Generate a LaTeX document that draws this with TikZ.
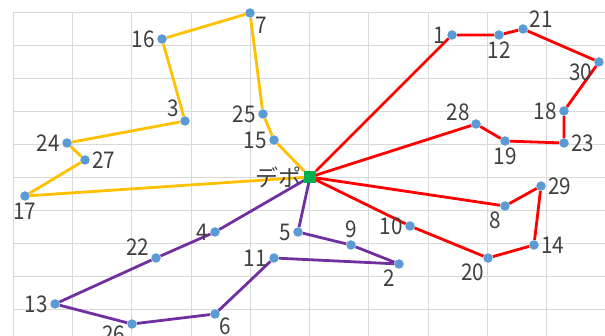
\documentclass[tikz,border=0pt]{standalone}
\usepackage{fontspec}
\setmainfont{Noto Sans CJK JP}
\newfontfamily\numfont[FakeStretch=0.9]{Noto Sans CJK JP}
\newfontfamily\jpfont{Noto Sans CJK JP}
\usepackage{xcolor}
\usepackage{tikz}
\usetikzlibrary{positioning}

\definecolor{gridgray}{HTML}{D9D9D9}
\definecolor{txtgray}{HTML}{404040}
\definecolor{dotblue}{HTML}{5B9BD5}
\definecolor{depotgreen}{HTML}{00B050}
\definecolor{routeyellow}{HTML}{FFC000}
\definecolor{routered}{HTML}{FF0000}
\definecolor{routepurple}{HTML}{7030A0}

\pgfdeclarelayer{background}
\pgfsetlayers{background,main}

\tikzset{
  client/.style={circle,fill=dotblue,inner sep=0pt,minimum size=9.5pt},
  depotbox/.style={rectangle,fill=depotgreen,inner sep=0pt,minimum size=11.5pt},
  lbl/.style={text=txtgray,inner sep=0pt,font=\numfont\fontsize{23}{25}\selectfont},
  gridline/.style={gridgray,line width=0.8pt},
  route/.style={line width=2.8pt,line join=round}
}

\begin{document}
\begin{tikzpicture}[x=1pt,y=-1pt,label distance=2pt]
  \useasboundingbox (0,0) rectangle (605,336);
  % 目盛り線
  \begin{pgfonlayer}{background}
    \foreach \x in {0,...,9} {
      \draw[gridline] ({13+59.3*\x},12) -- ({13+59.3*\x},336);
    }
    \foreach \y in {0,...,9} {
      \draw[gridline] (13,{12+33*\y}) -- (605,{12+33*\y});
    }
  \end{pgfonlayer}
  % デポ
  \node[depotbox,label={[lbl,font=\jpfont\fontsize{23}{25}\selectfont]left:デポ}] (depot) at (310,177) {};
  % 顧客
  \node[client,label={[lbl]left:1}] (p1) at (452,35) {};
  \node[client,label={[lbl]232:2}] (p2) at (399,264) {};
  \node[client,label={[lbl]142:3}] (p3) at (185,121) {};
  \node[client,label={[lbl]left:4}] (p4) at (215,232) {};
  \node[client,label={[lbl]left:5}] (p5) at (298,232) {};
  \node[client,label={[lbl,label distance=0pt]321:6}] (p6) at (215,314) {};
  \node[client,label={[lbl]322:7}] (p7) at (250,13) {};
  \node[client,label={[lbl]233:8}] (p8) at (505,206) {};
  \node[client,label={[lbl]above:9}] (p9) at (351,245) {};
  \node[client,label={[lbl]left:10}] (p10) at (410,226) {};
  \node[client,label={[lbl]left:11}] (p11) at (274,258) {};
  \node[client,label={[lbl]below:12}] (p12) at (499,35) {};
  \node[client,label={[lbl]left:13}] (p13) at (55,304) {};
  \node[client,label={[lbl]right:14}] (p14) at (534,245) {};
  \node[client,label={[lbl]left:15}] (p15) at (274,140) {};
  \node[client,label={[lbl]left:16}] (p16) at (162,39) {};
  \node[client,label={[lbl]below:17}] (p17) at (25,196) {};
  \node[client,label={[lbl]left:18}] (p18) at (564,111) {};
  \node[client,label={[lbl]below:19}] (p19) at (505,141) {};
  \node[client,label={[lbl]241:20}] (p20) at (488,258) {};
  \node[client,label={[lbl]13:21}] (p21) at (523,29) {};
  \node[client,label={[lbl]160:22}] (p22) at (156,258) {};
  \node[client,label={[lbl]right:23}] (p23) at (564,143) {};
  \node[client,label={[lbl]left:24}] (p24) at (67,143) {};
  \node[client,label={[lbl]left:25}] (p25) at (263,114) {};
  \node[client,label={[lbl]197:26}] (p26) at (132,324) {};
  \node[client,label={[lbl]right:27}] (p27) at (85,160) {};
  \node[client,label={[lbl]155:28}] (p28) at (476,124) {};
  \node[client,label={[lbl]right:29}] (p29) at (541,186) {};
  \node[client,label={[lbl]193:30}] (p30) at (599,62) {};
  % ルート
  \begin{pgfonlayer}{background}
    \draw[route,routeyellow] (depot) -- (p15) -- (p25) -- (p7) -- (p16) -- (p3)
      -- (p24) -- (p27) -- (p17) -- (depot);
    \draw[route,routered] (depot) -- (p1) -- (p12) -- (p21) -- (p30) -- (p18)
      -- (p23) -- (p19) -- (p28) -- (depot);
    \draw[route,routered] (depot) -- (p8) -- (p29) -- (p14) -- (p20) -- (p10) -- (depot);
    \draw[route,routepurple] (depot) -- (p5) -- (p9) -- (p2) -- (p11) -- (p6)
      -- (p26) -- (p13) -- (p22) -- (p4) -- (depot);
  \end{pgfonlayer}
\end{tikzpicture}
\end{document}
